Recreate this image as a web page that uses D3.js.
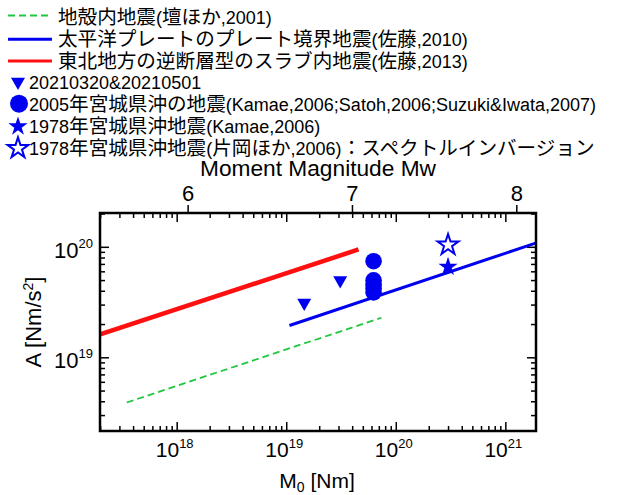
<!DOCTYPE html>
<html>
<head>
<meta charset="utf-8">
<script src="https://cdn.jsdelivr.net/npm/d3@7"></script>
<style>
  body { margin: 0; background: #fff; }
  svg text { font-family: "Liberation Sans", Arial, "Noto Sans CJK JP", sans-serif; fill: #000; }
</style>
</head>
<body>
<script>
// legend labels
var legendLabels = [
  "地殻内地震(壇ほか,2001)",
  "太平洋プレートのプレート境界地震(佐藤,2010)",
  "東北地方の逆断層型のスラブ内地震(佐藤,2013)",
  "20210320&20210501",
  "2005年宮城県沖の地震(Kamae,2006;Satoh,2006;Suzuki&Iwata,2007)",
  "1978年宮城県沖地震(Kamae,2006)",
  "1978年宮城県沖地震(片岡ほか,2006)：スペクトルインバージョン"
];

// scaling lines (M0 [Nm], A [Nm/s2])
var crustalM0 = [3.5e17, 7.4e19];
var crustalA = [3.9e18, 2.28e19];
var interfaceM0 = [1.07e19, 2.0e21];
var interfaceA = [1.94e19, 1.1e20];
var slabM0 = [2.0e17, 4.57e19];
var slabA = [1.61e19, 9.46e19];

// events
var eq2021M0 = [1.46e19, 3.11e19];
var eq2021A = [3.11e19, 4.97e19];
var eq2005M0 = [6.27e19, 6.27e19, 6.27e19, 6.27e19, 6.27e19];
var eq2005A = [7.41e19, 4.98e19, 4.58e19, 4.22e19, 3.87e19];
var eq1978KamaeM0 = [3.0e20];
var eq1978KamaeA = [6.58e19];
var eq1978KataokaM0 = [3.0e20];
var eq1978KataokaA = [1.04e20];

// axis ticks
var xMajor = [18, 19, 20, 21];
var yMajor = [19, 20];
var mwTicks = [6, 7, 8];

var width = 627, height = 495;
var box = { left: 100, right: 536, top: 213, bottom: 431 };
var blue = "#0000f0", red = "#ff1010", green = "#20c840";

var svg = d3.select("body").append("svg")
  .attr("width", width)
  .attr("height", height);

var x = d3.scaleLog().domain([Math.pow(10, 17.30), Math.pow(10, 21.28)]).range([box.left, box.right]);
var y = d3.scaleLog().domain([Math.pow(10, 18.333), Math.pow(10, 20.306)]).range([box.bottom, box.top]);

// minor ticks 2..9 of each decade inside the domain
function minorTicks(scale, d0, d1) {
  var out = [];
  var dom = scale.domain();
  for (var d = d0; d <= d1; d++) {
    for (var k = 2; k <= 9; k++) {
      var v = k * Math.pow(10, d);
      if (v > dom[0] && v < dom[1]) out.push(v);
    }
  }
  return out;
}
var xMinor = minorTicks(x, 17, 21);
var yMinor = minorTicks(y, 18, 20);
var xMajorV = xMajor.map(function (d) { return Math.pow(10, d); });
var yMajorV = yMajor.map(function (d) { return Math.pow(10, d); });

// inward ticks on all four sides
function tickAxis(axisFn, scale, vals, size, transform) {
  svg.append("g")
    .attr("transform", transform)
    .call(axisFn(scale).tickValues(vals).tickSize(-size).tickFormat("").tickSizeOuter(0))
    .call(function (g) {
      g.select(".domain").remove();
      g.selectAll("line").attr("stroke", "#000").attr("stroke-width", 1.5);
    });
}
tickAxis(d3.axisBottom, x, xMinor, 5, "translate(0," + box.bottom + ")");
tickAxis(d3.axisBottom, x, xMajorV, 9, "translate(0," + box.bottom + ")");
tickAxis(d3.axisTop, x, xMinor, 5, "translate(0," + box.top + ")");
tickAxis(d3.axisTop, x, xMajorV, 9, "translate(0," + box.top + ")");
tickAxis(d3.axisLeft, y, yMinor, 5, "translate(" + box.left + ",0)");
tickAxis(d3.axisLeft, y, yMajorV, 9, "translate(" + box.left + ",0)");
tickAxis(d3.axisRight, y, yMinor, 5, "translate(" + box.right + ",0)");
tickAxis(d3.axisRight, y, yMajorV, 9, "translate(" + box.right + ",0)");

// Mw ticks on top (outward)
var mwToM0 = function (mw) { return Math.pow(10, 1.5 * mw + 9.1); };
var mwAxis = svg.append("g")
  .attr("transform", "translate(0," + box.top + ")")
  .call(d3.axisTop(x).tickValues(mwTicks.map(mwToM0)).tickSize(8).tickSizeOuter(0)
    .tickFormat(function (d, i) { return mwTicks[i]; }));
mwAxis.select(".domain").remove();
mwAxis.selectAll("line").attr("stroke", "#000").attr("stroke-width", 1.5);
mwAxis.selectAll("text").attr("font-size", "22px").attr("font-family", null).attr("dy", "-0.05em");

// decade labels with superscripts
xMajor.forEach(function (d) {
  var t = svg.append("text")
    .attr("x", x(Math.pow(10, d)) - 2)
    .attr("y", 457)
    .attr("text-anchor", "middle")
    .attr("font-size", "21px");
  t.append("tspan").text("10");
  t.append("tspan").attr("dy", -9).attr("font-size", "13px").text(d);
});
yMajor.forEach(function (d) {
  var t = svg.append("text")
    .attr("x", 93)
    .attr("y", y(Math.pow(10, d)) + 11)
    .attr("text-anchor", "end")
    .attr("font-size", "22px");
  t.append("tspan").text("10");
  t.append("tspan").attr("dy", -10).attr("font-size", "13px").text(d);
});

// axis titles
svg.append("text")
  .attr("x", 318).attr("y", 176)
  .attr("text-anchor", "middle")
  .attr("font-size", "22px")
  .attr("textLength", 236)
  .attr("lengthAdjust", "spacingAndGlyphs")
  .text("Moment Magnitude Mw");

var xt = svg.append("text")
  .attr("x", 317).attr("y", 488)
  .attr("text-anchor", "middle")
  .attr("font-size", "21px");
xt.append("tspan").text("M");
xt.append("tspan").attr("dy", 4).attr("font-size", "14px").text("0");
xt.append("tspan").attr("dy", -4).text(" [Nm]");

var yt = svg.append("text")
  .attr("transform", "translate(41," + 322 + ") rotate(-90)")
  .attr("text-anchor", "middle")
  .attr("font-size", "22px");
yt.append("tspan").text("A [Nm/s");
yt.append("tspan").attr("dy", -8).attr("font-size", "14px").text("2");
yt.append("tspan").attr("dy", 8).text("]");

// clip for data
svg.append("clipPath").attr("id", "clip")
  .append("rect")
  .attr("x", box.left).attr("y", box.top)
  .attr("width", box.right - box.left).attr("height", box.bottom - box.top);

var plot = svg.append("g").attr("clip-path", "url(#clip)");

var line = d3.line()
  .x(function (d) { return x(d[0]); })
  .y(function (d) { return y(d[1]); });

function drawLine(m0, a, color, w, dash) {
  plot.append("path")
    .datum(d3.zip(m0, a))
    .attr("fill", "none")
    .attr("stroke", color)
    .attr("stroke-width", w)
    .attr("stroke-dasharray", dash || null)
    .attr("d", line);
}
drawLine(crustalM0, crustalA, green, 1.8, "7,4");
drawLine(interfaceM0, interfaceA, blue, 3);
drawLine(slabM0, slabA, red, 4.5);

var triSym = d3.symbol(d3.symbolTriangle).size(85);
var starBig = d3.symbol(d3.symbolStar).size(135);
var starFill = d3.symbol(d3.symbolStar).size(115);

plot.selectAll(".tri").data(d3.zip(eq2021M0, eq2021A)).enter().append("path")
  .attr("d", triSym)
  .attr("transform", function (d) { return "translate(" + x(d[0]) + "," + y(d[1]) + ") rotate(180)"; })
  .attr("fill", blue);

plot.selectAll(".circ").data(d3.zip(eq2005M0, eq2005A)).enter().append("circle")
  .attr("cx", function (d) { return x(d[0]); })
  .attr("cy", function (d) { return y(d[1]); })
  .attr("r", 8.3)
  .attr("fill", blue);

plot.selectAll(".starf").data(d3.zip(eq1978KamaeM0, eq1978KamaeA)).enter().append("path")
  .attr("d", starFill)
  .attr("transform", function (d) { return "translate(" + x(d[0]) + "," + y(d[1]) + ")"; })
  .attr("fill", blue);

plot.selectAll(".staro").data(d3.zip(eq1978KataokaM0, eq1978KataokaA)).enter().append("path")
  .attr("d", starBig)
  .attr("transform", function (d) { return "translate(" + x(d[0]) + "," + y(d[1]) + ")"; })
  .attr("fill", "#fff")
  .attr("stroke", blue)
  .attr("stroke-width", 2);

// frame
svg.append("rect")
  .attr("x", box.left).attr("y", box.top)
  .attr("width", box.right - box.left).attr("height", box.bottom - box.top)
  .attr("fill", "none")
  .attr("stroke", "#000")
  .attr("stroke-width", 2.5);

// legend: japanese runs a bit larger than latin, as in the original
var legend = svg.append("g");
var rowY = function (i) { return 17.5 + 21.8 * i; };
var cjk = /([\u3000-\u30ff\u4e00-\u9fff\uff00-\uffef]+)/;
legendLabels.forEach(function (label, i) {
  var tx = i < 3 ? 58 : 29;
  var t = legend.append("text")
    .attr("x", tx).attr("y", rowY(i) + 6.5)
    .attr("font-size", "18px");
  label.split(cjk).forEach(function (part) {
    if (!part) return;
    var s = t.append("tspan").text(part);
    if (cjk.test(part)) s.attr("font-size", "19.6px");
  });
});
legend.append("line").attr("x1", 8).attr("x2", 52).attr("y1", rowY(0) - 2).attr("y2", rowY(0) - 2)
  .attr("stroke", green).attr("stroke-width", 1.8).attr("stroke-dasharray", "7,4");
legend.append("line").attr("x1", 8).attr("x2", 52).attr("y1", rowY(1)).attr("y2", rowY(1))
  .attr("stroke", blue).attr("stroke-width", 3);
legend.append("line").attr("x1", 8).attr("x2", 52).attr("y1", rowY(2)).attr("y2", rowY(2))
  .attr("stroke", red).attr("stroke-width", 3);
legend.append("path").attr("d", triSym)
  .attr("transform", "translate(18," + (rowY(3) - 1) + ") rotate(180)").attr("fill", blue);
legend.append("circle").attr("cx", 19).attr("cy", rowY(4) - 1).attr("r", 9).attr("fill", blue);
legend.append("path").attr("d", starFill)
  .attr("transform", "translate(18," + rowY(5) + ")").attr("fill", blue);
legend.append("path").attr("d", starBig)
  .attr("transform", "translate(18," + rowY(6) + ")")
  .attr("fill", "#fff").attr("stroke", blue).attr("stroke-width", 2);
</script>
</body>
</html>
